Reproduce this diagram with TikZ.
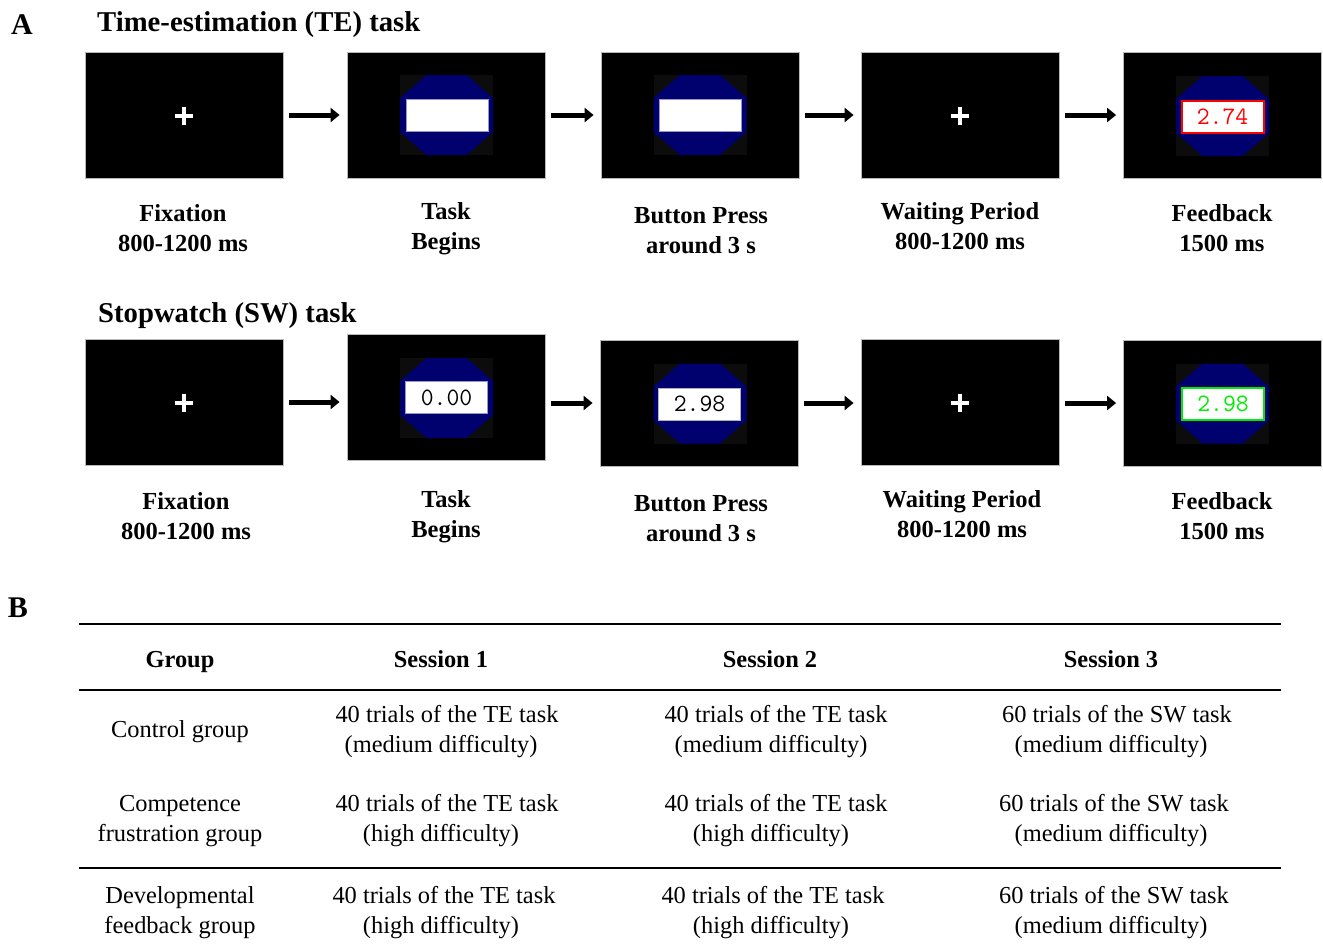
\documentclass[tikz,border=0pt]{standalone}
\usepackage{fontspec}
\setmainfont{Liberation Serif}
\usetikzlibrary{arrows.meta}
\definecolor{navy}{RGB}{0,0,110}
\definecolor{fbgreen}{RGB}{0,235,0}
\definecolor{fbred}{RGB}{255,0,0}
\definecolor{lav}{RGB}{150,150,205}
\definecolor{nearblack}{RGB}{12,12,12}
\begin{document}
\begin{tikzpicture}[x=1pt,y=-1pt,
  screen/.style={draw=gray!55, line width=0.8pt, fill=black, minimum width=198pt, minimum height=126pt, inner sep=0pt},
  arr/.style={line width=5pt, -{Triangle[length=9pt,width=14pt]}, shorten <=6pt, shorten >=7pt},
  lbl/.style={font=\fontsize{24.5}{30}\selectfont\bfseries, align=center, inner sep=0pt},
  cell/.style={font=\fontsize{24.4}{30}\selectfont, anchor=base, inner sep=0pt},
  head/.style={font=\fontsize{24.4}{30}\selectfont\bfseries, anchor=base, inner sep=0pt},
  ttl/.style={font=\fontsize{28.7}{34}\selectfont\bfseries, anchor=west, inner sep=0pt},
  panel/.style={font=\fontsize{30}{34}\selectfont\bfseries, inner sep=0pt},
  disp/.style={draw=lav, line width=0.8pt, fill=white, minimum width=82pt, minimum height=32pt, inner sep=0pt, font=\ttfamily\fontsize{25}{25}\selectfont},
  rulel/.style={line width=1.8pt},
  octa/.pic={
    \fill[nearblack] (-46.5,-40) rectangle (46.5,40);
    \fill[navy] (-20,-40) -- (20,-40) -- (46.5,-17) -- (46.5,17) -- (20,40) -- (-20,40) -- (-46.5,17) -- (-46.5,-17) -- cycle;
  },
  crossmark/.pic={
    \fill[white] (-9,-2.4) rectangle (9,2.4);
    \fill[white] (-2.4,-9) rectangle (2.4,9);
  }
]
\useasboundingbox (0,0) rectangle (1323,946);

% Panel A titles
\node[panel] (pA) at (22,25) {A};
\node[ttl] (tA) at (97,25) {Time-estimation (TE) task};
\node[ttl] (tB) at (98,316) {Stopwatch (SW) task};

% Row 1 screens
\node[screen] (a1) at (184,115) {};
\pic at (184,116) {crossmark};
\node[screen] (a2) at (446,115) {};
\pic at (446.5,115) {octa};
\node[disp] (a2d) at (447,115) {};
\node[screen] (a3) at (700,115) {};
\pic at (700,115) {octa};
\node[disp] (a3d) at (700.5,115) {};
\node[screen] (a4) at (960,115) {};
\pic at (960,116) {crossmark};
\node[screen] (a5) at (1222.5,115) {};
\pic at (1222.5,116) {octa};
\node[disp, draw=fbred, line width=2pt, text=fbred] (a5d) at (1222.5,116.5) {2.74};

\draw[arr] (a1.east) -- (a2.west);
\draw[arr] (a2.east) -- (a3.west);
\draw[arr] (a3.east) -- (a4.west);
\draw[arr] (a4.east) -- (a5.west);

% Row 1 labels
\node[lbl] (la1) at (183,228) {Fixation\\800-1200 ms};
\node[lbl] (la2) at (446,229) {Task\\Begins};
\node[lbl] (la3) at (701,231) {Button Press\\around 3 s};
\node[lbl] (la4) at (960,226) {Waiting Period\\800-1200 ms};
\node[lbl] (la5) at (1222,228) {Feedback\\1500 ms};

% Row 2 screens
\node[screen] (b1) at (184,402) {};
\pic at (184,403) {crossmark};
\node[screen] (b2) at (446,397.5) {};
\pic at (446.5,398) {octa};
\node[disp] (b2d) at (446.5,397.5) {0.00};
\node[screen] (b3) at (699,403) {};
\pic at (700,403.5) {octa};
\node[disp, draw=black!30] (b3d) at (699.5,404) {2.98};
\node[screen] (b4) at (960,402) {};
\pic at (960,403) {crossmark};
\node[screen] (b5) at (1222.5,403) {};
\pic at (1222.5,403.5) {octa};
\node[disp, draw=fbgreen, line width=2pt, text=fbgreen] (b5d) at (1223,404) {2.98};

\draw[arr] (b1.east) -- (b2.west |- b1.east);
\draw[arr] (b2.east |- b3.west) -- (b3.west);
\draw[arr] (b3.east) -- (b4.west |- b3.east);
\draw[arr] (b4.east |- b5.west) -- (b5.west);

% Row 2 labels
\node[lbl] (lb1) at (186,516) {Fixation\\800-1200 ms};
\node[lbl] (lb2) at (446,517) {Task\\Begins};
\node[lbl] (lb3) at (701,519) {Button Press\\around 3 s};
\node[lbl] (lb4) at (962,514) {Waiting Period\\800-1200 ms};
\node[lbl] (lb5) at (1222,516) {Feedback\\1500 ms};

% Panel B table
\node[panel] (pB) at (18,608) {B};
\draw[rulel] (79,624) -- (1281,624);
\draw[rulel] (79,690) -- (1281,690);
\draw[rulel] (79,868) -- (1281,868);

\node[head] (h0) at (180,667) {Group};
\node[head] (h1) at (441,667) {Session 1};
\node[head] (h2) at (770,667) {Session 2};
\node[head] (h3) at (1111,667) {Session 3};

\node[cell] (g1) at (180,737) {Control group};
\node[cell] (c11a) at (447,722) {40 trials of the TE task};
\node[cell] (c11b) at (441,752) {(medium difficulty)};
\node[cell] (c12a) at (776,722) {40 trials of the TE task};
\node[cell] (c12b) at (771,752) {(medium difficulty)};
\node[cell] (c13a) at (1117,722) {60 trials of the SW task};
\node[cell] (c13b) at (1111,752) {(medium difficulty)};

\node[cell] (g2a) at (180,811) {Competence};
\node[cell] (g2b) at (180,841) {frustration group};
\node[cell] (c21a) at (447,811) {40 trials of the TE task};
\node[cell] (c21b) at (441,841) {(high difficulty)};
\node[cell] (c22a) at (776,811) {40 trials of the TE task};
\node[cell] (c22b) at (771,841) {(high difficulty)};
\node[cell] (c23a) at (1114,811) {60 trials of the SW task};
\node[cell] (c23b) at (1111,841) {(medium difficulty)};

\node[cell] (g3a) at (180,903) {Developmental};
\node[cell] (g3b) at (180,933) {feedback group};
\node[cell] (c31a) at (444,903) {40 trials of the TE task};
\node[cell] (c31b) at (441,933) {(high difficulty)};
\node[cell] (c32a) at (773,903) {40 trials of the TE task};
\node[cell] (c32b) at (771,933) {(high difficulty)};
\node[cell] (c33a) at (1114,903) {60 trials of the SW task};
\node[cell] (c33b) at (1111,933) {(medium difficulty)};
\end{tikzpicture}
\end{document}
